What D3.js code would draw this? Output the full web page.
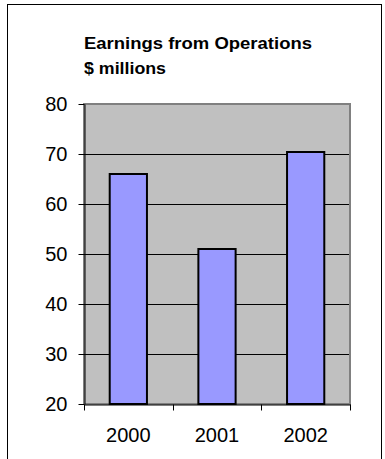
<!DOCTYPE html>
<html>
<head>
<meta charset="utf-8">
<script src="https://cdn.jsdelivr.net/npm/d3@7"></script>
<style>
  body { margin: 0; background: #fff; }
  text { font-family: "Liberation Sans", Arial, sans-serif; }
</style>
</head>
<body>
<svg id="chart" width="385" height="459"></svg>
<script>
var years = ["2000", "2001", "2002"];
var earnings = [66, 51, 70.4];
var yTicks = [20, 30, 40, 50, 60, 70, 80];
var titleLines = ["Earnings from Operations", "$ millions"];
var titleWidths = [228, 82];

var svg = d3.select("#chart");

var plot = { left: 84, right: 350, top: 104, bottom: 404 };

var x = d3.scaleBand()
    .domain(years)
    .range([plot.left, plot.right])
    .padding(0);

var y = d3.scaleLinear()
    .domain([20, 80])
    .range([plot.bottom, plot.top]);

// outer frame
svg.append("rect")
    .attr("x", 7.5)
    .attr("y", 4.5)
    .attr("width", 374)
    .attr("height", 470)
    .attr("fill", "#fff")
    .attr("stroke", "#000")
    .attr("stroke-width", 1);

// title
svg.selectAll("text.title")
    .data(titleLines)
    .enter().append("text")
    .attr("class", "title")
    .attr("x", 84)
    .attr("y", function (d, i) { return 49 + i * 25; })
    .attr("font-size", "16.5px")
    .attr("font-weight", "bold")
    .attr("fill", "#000")
    .attr("textLength", function (d, i) { return titleWidths[i]; })
    .attr("lengthAdjust", "spacingAndGlyphs")
    .text(function (d) { return d; });

// plot area
svg.append("rect")
    .attr("x", plot.left)
    .attr("y", plot.top)
    .attr("width", plot.right - plot.left)
    .attr("height", plot.bottom - plot.top)
    .attr("fill", "#c0c0c0")
    .attr("stroke", "#808080")
    .attr("stroke-width", 2);

// gridlines
svg.selectAll("line.grid")
    .data(yTicks.slice(1, -1))
    .enter().append("line")
    .attr("class", "grid")
    .attr("x1", plot.left)
    .attr("x2", plot.right - 1)
    .attr("y1", function (d) { return Math.round(y(d)) + 0.5; })
    .attr("y2", function (d) { return Math.round(y(d)) + 0.5; })
    .attr("stroke", "#000")
    .attr("stroke-width", 1);

// bars
var barWidth = x.bandwidth() * 0.42;
svg.selectAll("rect.bar")
    .data(earnings)
    .enter().append("rect")
    .attr("class", "bar")
    .attr("x", function (d, i) { return x(years[i]) + (x.bandwidth() - barWidth) / 2; })
    .attr("y", function (d) { return y(d); })
    .attr("width", barWidth)
    .attr("height", function (d) { return y(20) - y(d); })
    .attr("fill", "#9999ff")
    .attr("stroke", "#000")
    .attr("stroke-width", 2);

// y axis
var yAxis = d3.axisLeft(y)
    .tickValues(yTicks)
    .tickSize(6)
    .tickPadding(11)
    .tickSizeOuter(0);

svg.append("g")
    .attr("transform", "translate(" + (plot.left + 0.5) + ",0)")
    .call(yAxis)
    .call(function (g) {
        g.select(".domain").attr("stroke", "#000");
        g.selectAll(".tick line").attr("stroke", "#000");
        g.selectAll(".tick text")
            .attr("font-size", "20px")
            .attr("font-family", "Liberation Sans, Arial, sans-serif")
            .attr("fill", "#000");
    });

// x axis
var xAxis = d3.axisBottom(x)
    .tickValues([])
    .tickSizeOuter(0);

var xg = svg.append("g")
    .attr("transform", "translate(0," + (plot.bottom + 0.5) + ")")
    .call(xAxis);
xg.select(".domain").attr("stroke", "#000");

// x tick marks on category boundaries
var boundaries = years.map(function (d) { return x(d); }).concat([x.range()[1]]);
xg.selectAll("line.xtick")
    .data(boundaries)
    .enter().append("line")
    .attr("class", "xtick")
    .attr("x1", function (d) { return Math.round(d) + 0.5; })
    .attr("x2", function (d) { return Math.round(d) + 0.5; })
    .attr("y1", 0)
    .attr("y2", 6)
    .attr("stroke", "#000");

xg.selectAll("text.xlabel")
    .data(years)
    .enter().append("text")
    .attr("class", "xlabel")
    .attr("x", function (d) { return x(d) + x.bandwidth() / 2; })
    .attr("y", 37.5)
    .attr("text-anchor", "middle")
    .attr("font-size", "20px")
    .attr("fill", "#000")
    .text(function (d) { return d; });
</script>
</body>
</html>
